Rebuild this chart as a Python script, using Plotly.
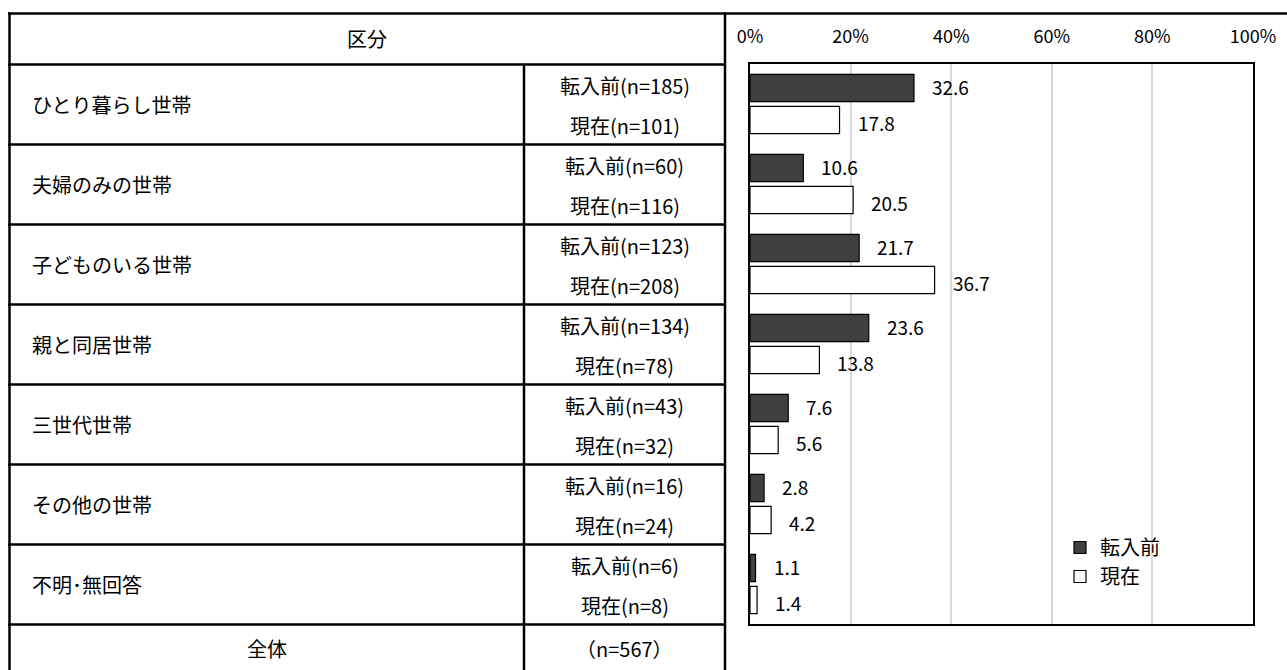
import plotly.graph_objects as go

# ---- data ----
categories = ["ひとり暮らし世帯", "夫婦のみの世帯", "子どものいる世帯", "親と同居世帯",
              "三世代世帯", "その他の世帯", "不明･無回答"]
series_names = ["転入前", "現在"]
before_pct = [32.6, 10.6, 21.7, 23.6, 7.6, 2.8, 1.1]
now_pct = [17.8, 20.5, 36.7, 13.8, 5.6, 4.2, 1.4]
before_n = [185, 60, 123, 134, 43, 16, 6]
now_n = [101, 116, 208, 78, 32, 24, 8]
total_n = 567
header_label = "区分"
total_label = "全体"
x_ticks = [0, 20, 40, 60, 80, 100]
x_tick_labels = ["0%", "20%", "40%", "60%", "80%", "100%"]

# ---- layout geometry (pixels) ----
W, H = 1287, 670
ML, MR, MT, MB = 750, 34, 64, 46
PW = W - ML - MR
PH = H - MT - MB

def px_x(p):
    return (p - ML) / PW

def px_y(p):
    return (H - MB - p) / PH

FONT = "Noto Sans CJK JP"
DARK = "#404040"

fig = go.Figure()
fig.add_trace(go.Bar(
    name=series_names[0], y=categories, x=before_pct, orientation="h",
    marker=dict(color=DARK, line=dict(color="black", width=1.2)),
    hoverinfo="x+y"))
fig.add_trace(go.Bar(
    name=series_names[1], y=categories, x=now_pct, orientation="h",
    marker=dict(color="white", line=dict(color="black", width=1.2)),
    hoverinfo="x+y"))

annotations = []
for i, cat in enumerate(categories):
    # data labels
    annotations.append(dict(x=before_pct[i], y=i, xref="x", yref="y",
                            text=f"{before_pct[i]:.1f}", showarrow=False,
                            xanchor="left", yanchor="middle", xshift=16, yshift=18,
                            font=dict(size=19, color="black", family=FONT)))
    annotations.append(dict(x=now_pct[i], y=i, xref="x", yref="y",
                            text=f"{now_pct[i]:.1f}", showarrow=False,
                            xanchor="left", yanchor="middle", xshift=16, yshift=-18,
                            font=dict(size=19, color="black", family=FONT)))
    # table: category
    annotations.append(dict(x=px_x(30), y=i, xref="paper", yref="y",
                            text=cat, showarrow=False, xanchor="left", yanchor="middle",
                            font=dict(size=20, color="black", family=FONT)))
    # table: n
    annotations.append(dict(x=px_x(624.5), y=i, xref="paper", yref="y",
                            text=f"{series_names[0]}(n={before_n[i]})", showarrow=False,
                            xanchor="center", yanchor="middle", yshift=19,
                            font=dict(size=20, color="black", family=FONT)))
    annotations.append(dict(x=px_x(624.5), y=i, xref="paper", yref="y",
                            text=f"{series_names[1]}(n={now_n[i]})", showarrow=False,
                            xanchor="center", yanchor="middle", yshift=-21,
                            font=dict(size=20, color="black", family=FONT)))

annotations.append(dict(x=px_x(367), y=px_y(39), xref="paper", yref="paper",
                        text=header_label, showarrow=False, xanchor="center", yanchor="middle",
                        font=dict(size=20, color="black", family=FONT)))
annotations.append(dict(x=px_x(266.5), y=px_y(648), xref="paper", yref="paper",
                        text=total_label, showarrow=False, xanchor="center", yanchor="middle",
                        font=dict(size=20, color="black", family=FONT)))
annotations.append(dict(x=px_x(624.5), y=px_y(648), xref="paper", yref="paper",
                        text=f"（n={total_n}）", showarrow=False, xanchor="center", yanchor="middle",
                        font=dict(size=20, color="black", family=FONT)))

# table lines
shapes = []
LW = 2.5
def hline(x0, x1, y):
    shapes.append(dict(type="line", xref="paper", yref="paper",
                       x0=px_x(x0), x1=px_x(x1), y0=px_y(y), y1=px_y(y),
                       line=dict(color="black", width=LW)))
def vline(x, y0, y1):
    shapes.append(dict(type="line", xref="paper", yref="paper",
                       x0=px_x(x), x1=px_x(x), y0=px_y(y0), y1=px_y(y1),
                       line=dict(color="black", width=LW)))

hline(8, 1290, 13.5)
for k in range(len(categories) + 1):
    hline(8, 725, 64.5 + k * 80)
vline(9.5, 12.5, 680)
vline(524, 64.5, 680)
vline(725, 12.5, 680)

fig.update_layout(
    width=W, height=H, autosize=False,
    margin=dict(l=ML, r=MR, t=MT, b=MB),
    paper_bgcolor="white", plot_bgcolor="white",
    barmode="group", bargap=0.2, bargroupgap=0.15,
    font=dict(family=FONT, color="black"),
    showlegend=True,
    legend=dict(x=px_x(1060), y=px_y(528), xanchor="left", yanchor="top",
                traceorder="normal", font=dict(size=20, family=FONT, color="black"),
                bgcolor="rgba(0,0,0,0)", itemwidth=30, tracegroupgap=0),
    annotations=annotations,
    shapes=shapes,
)
fig.update_xaxes(range=[0, 100], side="top", tickmode="array", tickvals=x_ticks,
                 ticktext=x_tick_labels,
                 showgrid=True, gridcolor="#d9d9d9", gridwidth=1.5,
                 showline=True, linecolor="black", linewidth=1.5, mirror=True,
                 zeroline=False, ticks="", ticklabelstandoff=12,
                 tickfont=dict(size=18, family=FONT, color="black"), fixedrange=True)
fig.update_yaxes(autorange="reversed", showticklabels=False, showgrid=False,
                 showline=True, linecolor="black", linewidth=1.5, mirror=True,
                 ticks="", fixedrange=True)

fig.write_html("out.html", config={"displayModeBar": False},
               post_script="document.body.style.margin='0';document.body.style.overflow='hidden';")
